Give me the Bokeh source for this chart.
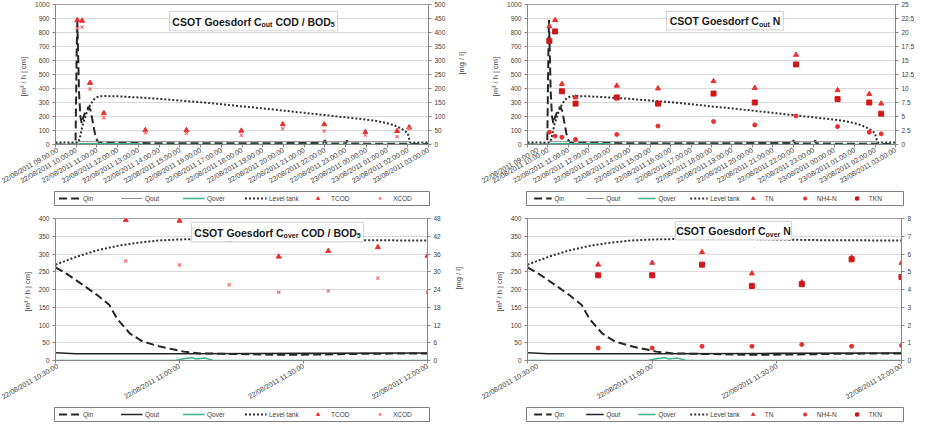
import pandas as pd
from bokeh.plotting import figure
from bokeh.models import (Range1d, LinearAxis, FixedTicker, DatetimeTickFormatter,
                          NumeralTickFormatter, Legend, LegendItem, Label, BoxAnnotation)
from bokeh.layouts import column, row
from bokeh.embed import file_html
from bokeh.resources import INLINE

FMT = "%d/%m/%Y %H:%M"
NAN = float("nan")

# ---------------- x ticks ----------------
top_xticks = ["22/08/2011 09:00", "22/08/2011 10:00", "22/08/2011 11:00", "22/08/2011 12:00",
              "22/08/2011 13:00", "22/08/2011 14:00", "22/08/2011 15:00", "22/08/2011 16:00",
              "22/08/2011 17:00", "22/08/2011 18:00", "22/08/2011 19:00", "22/08/2011 20:00",
              "22/08/2011 21:00", "22/08/2011 22:00", "22/08/2011 23:00", "23/08/2011 00:00",
              "23/08/2011 01:00", "23/08/2011 02:00", "23/08/2011 03:00"]
bot_xticks = ["22/08/2011 10:30", "22/08/2011 11:00", "22/08/2011 11:30", "22/08/2011 12:00"]

# ---------------- flows, outlet period ----------------
top_qin_time = ["22/08/2011 09:00", "22/08/2011 09:58", "22/08/2011 10:01", "22/08/2011 10:03",
                "22/08/2011 10:05", "22/08/2011 10:08", "22/08/2011 10:12", "22/08/2011 10:16",
                "22/08/2011 10:20", "22/08/2011 10:28", "22/08/2011 10:36", "22/08/2011 10:42",
                "22/08/2011 10:48", "22/08/2011 10:54", "22/08/2011 11:00", "22/08/2011 11:06",
                "22/08/2011 12:00", "22/08/2011 13:00", "22/08/2011 16:00", "22/08/2011 20:00",
                "22/08/2011 21:55", "22/08/2011 22:00", "22/08/2011 22:05", "22/08/2011 23:00",
                "22/08/2011 23:04", "22/08/2011 23:08", "23/08/2011 00:00", "23/08/2011 02:00",
                "23/08/2011 02:10", "23/08/2011 03:00"]
top_qin = [0, 0, 600, 890, 700, 380, 200, 150, 190, 240, 270, 240, 160, 80, 30, 15,
           14, 10, 8, 10, 10, 30, 8, 8, 30, 8, 6, 6, 3, 3]

top_qout_time = ["22/08/2011 09:00", "22/08/2011 10:00", "22/08/2011 10:05",
                 "23/08/2011 02:05", "23/08/2011 02:10", "23/08/2011 03:00"]
top_qout = [0, 0, 20, 20, 0, 0]

top_qover_time = ["22/08/2011 09:00", "22/08/2011 10:05", "22/08/2011 10:10",
                  "22/08/2011 13:00", "22/08/2011 13:10", "23/08/2011 03:00"]
top_qover = [0, 0, 6, 6, 0, 0]

top_level_time = ["22/08/2011 09:00", "22/08/2011 10:05", "22/08/2011 10:10", "22/08/2011 10:15",
                  "22/08/2011 10:20", "22/08/2011 10:25", "22/08/2011 10:30", "22/08/2011 10:35",
                  "22/08/2011 10:40", "22/08/2011 10:45", "22/08/2011 10:50", "22/08/2011 10:55",
                  "22/08/2011 11:00", "22/08/2011 11:10", "22/08/2011 11:20", "22/08/2011 12:00",
                  "22/08/2011 13:00", "22/08/2011 14:00", "22/08/2011 15:00", "22/08/2011 16:00",
                  "22/08/2011 17:00", "22/08/2011 18:00", "22/08/2011 19:00", "22/08/2011 20:00",
                  "22/08/2011 21:00", "22/08/2011 22:00", "22/08/2011 23:00", "23/08/2011 00:00",
                  "23/08/2011 00:30", "23/08/2011 01:00", "23/08/2011 01:20", "23/08/2011 01:40",
                  "23/08/2011 01:50", "23/08/2011 02:00", "23/08/2011 02:04", "23/08/2011 02:07",
                  "23/08/2011 03:00"]
top_level = [15, 15, 40, 100, 150, 190, 225, 255, 280, 300, 318, 330, 338, 344, 346, 344,
             336, 326, 314, 302, 288, 272, 258, 242, 226, 210, 194, 178, 168, 152, 138, 115,
             100, 80, 40, 15, 15]

# ---------------- concentrations, outlet COD ----------------
cod_out_time = ["22/08/2011 10:03", "22/08/2011 10:17", "22/08/2011 10:40", "22/08/2011 11:20",
                "22/08/2011 13:20", "22/08/2011 15:19", "22/08/2011 17:58", "22/08/2011 19:58",
                "22/08/2011 21:58", "22/08/2011 23:57", "23/08/2011 01:29", "23/08/2011 02:04"]
tcod_out = [444, 442, 220, 112, 51, 51, 49, 72, 72, 44, 48, 61]
xcod_out = [415, 420, 198, 96, 42, 40, 33, 56, 48, 34, 28, 56]

# ---------------- concentrations, outlet N ----------------
n_out_time = ["22/08/2011 10:04", "22/08/2011 10:21", "22/08/2011 10:41", "22/08/2011 11:21",
              "22/08/2011 13:22", "22/08/2011 15:23", "22/08/2011 18:06", "22/08/2011 20:07",
              "22/08/2011 22:08", "23/08/2011 00:10", "23/08/2011 01:43", "23/08/2011 02:18"]
tn_out = [21.1, 22.2, 10.8, 8.4, 10.5, 10.0, 11.3, 10.1, 16.0, 9.7, 9.0, 7.3]
nh4_out = [2.2, 1.5, 1.3, 0.9, 1.8, 3.3, 4.1, 3.5, 5.1, 3.2, 2.2, 1.9]
tkn_out = [18.5, 20.2, 9.5, 7.3, 8.4, 7.3, 9.1, 7.5, 14.3, 8.1, 7.5, 5.5]

# ---------------- flows, overflow period ----------------
bot_qin_time = ["22/08/2011 10:30", "22/08/2011 10:33", "22/08/2011 10:37", "22/08/2011 10:40",
                "22/08/2011 10:43", "22/08/2011 10:45", "22/08/2011 10:48", "22/08/2011 10:51",
                "22/08/2011 10:55", "22/08/2011 10:59", "22/08/2011 11:01", "22/08/2011 11:05",
                "22/08/2011 11:15", "22/08/2011 11:25", "22/08/2011 11:35", "22/08/2011 11:45",
                "22/08/2011 12:00"]
bot_qin = [262, 242, 210, 185, 157, 116, 76, 54, 40, 30, 25, 20, 18, 16, 17, 19, 20]

bot_qout_time = ["22/08/2011 10:30", "22/08/2011 10:35", "22/08/2011 11:00",
                 "22/08/2011 11:30", "22/08/2011 12:00"]
bot_qout = [22, 19, 19, 20, 21]

bot_qover_time = ["22/08/2011 10:30", "22/08/2011 10:59", "22/08/2011 11:01", "22/08/2011 11:03",
                  "22/08/2011 11:04", "22/08/2011 11:06", "22/08/2011 11:08", "22/08/2011 11:10",
                  "22/08/2011 12:00"]
bot_qover = [0, 0, 5, 8, 4, 7, 1, 0, 0]

bot_level_time = ["22/08/2011 10:30", "22/08/2011 10:35", "22/08/2011 10:40", "22/08/2011 10:45",
                  "22/08/2011 10:50", "22/08/2011 10:55", "22/08/2011 11:00", "22/08/2011 11:10",
                  "22/08/2011 11:20", "22/08/2011 11:30", "22/08/2011 11:40", "22/08/2011 12:00"]
bot_level = [270, 292, 310, 323, 332, 338, 341, 343, 343, 341, 339, 338]

# ---------------- concentrations, overflow ----------------
over_time = ["22/08/2011 10:47", "22/08/2011 11:00", "22/08/2011 11:12", "22/08/2011 11:24",
             "22/08/2011 11:36", "22/08/2011 11:48", "22/08/2011 12:00"]
tcod_over = [47.5, 47.2, 40.8, 35.1, 37.0, 38.3, 35.4]
xcod_over = [33.6, 32.3, 25.6, 23.1, 23.5, 27.8, 23.1]
tn_over = [5.4, 5.5, 6.1, 4.9, 4.4, 5.8, 5.5]
nh4_over = [0.7, 0.7, 0.8, 0.8, 0.9, 0.8, 0.85]
tkn_over = [4.8, 4.8, 5.4, 4.2, 4.3, 5.7, 4.7]

# ---------------- styles ----------------
FONT = "Liberation Sans"
TXT = "#404040"
AXC = "#868686"
RED = "#e8302e"
TEAL = "#3cb48c"

QIN = dict(line_color="#262626", line_width=2, line_dash="8 4")
QOUT_LIGHT = dict(line_color="#8c8c8c", line_width=1)
QOUT_DARK = dict(line_color="#262626", line_width=1.6)
QOVER = dict(line_color=TEAL, line_width=1.5)
LEVEL = dict(line_color="#333333", line_width=2, line_dash="2 2")
TRI = dict(marker="triangle", size=5, fill_color=RED, line_color=RED)
XM = dict(marker="x", size=4.5, line_color="#f07070", line_width=1.2)
CIR = dict(marker="circle", size=4, fill_color=RED, line_color=RED)
SQ = dict(marker="square", size=5, fill_color="#d01818", line_color="#d01818")


def T(lst):
    return pd.to_datetime(lst, format=FMT)


def ms(lst):
    return [int(t.value // 10**6) for t in T(lst)]


AW = {' ': 278, '/': 278, 'C': 722, 'S': 667, 'O': 778, 'T': 611, 'G': 778, 'o': 611,
      'e': 556, 's': 556, 'd': 611, 'r': 389, 'f': 333, 'u': 611, 't': 333, 'v': 556,
      'B': 722, 'D': 722, 'N': 722, '5': 556}


def tw(s, size):
    return sum(AW[c] for c in s) * size / 1000.0


def style_axis(ax):
    ax.axis_line_color = AXC
    ax.major_tick_line_color = AXC
    ax.major_tick_out = 3
    ax.major_tick_in = 0
    ax.minor_tick_line_color = None
    ax.major_label_text_font = FONT
    ax.major_label_text_font_size = "6.5px"
    ax.major_label_text_color = TXT
    ax.major_label_standoff = 3
    ax.axis_label_text_font = FONT
    ax.axis_label_text_font_size = "7.5px"
    ax.axis_label_text_font_style = "normal"
    ax.axis_label_text_color = TXT


def make_panel(w, h, bl, br, bt, bb, xticks, ymax, ystep, y2max, y2step, right_label, r_standoff):
    x0, x1 = ms([xticks[0], xticks[-1]])
    p = figure(width=w, height=h, x_axis_type="datetime", x_range=Range1d(x0, x1),
               y_range=Range1d(0, ymax), output_backend="svg", toolbar_location=None,
               min_border_left=bl, min_border_right=br, min_border_top=bt, min_border_bottom=bb,
               background_fill_color="white", border_fill_color="white")
    p.outline_line_color = "#a6a6a6"
    p.xgrid.visible = False
    p.ygrid.grid_line_color = "#d9d9d9"
    yt = [i * ystep for i in range(int(round(ymax / ystep)) + 1)]
    p.ygrid.ticker = FixedTicker(ticks=yt)
    p.yaxis.ticker = FixedTicker(ticks=yt)
    p.yaxis.axis_label = "[m³ / h  |  cm]"
    p.yaxis.axis_label_standoff = 4
    f = "%d/%m/%Y %H:%M:%S"
    p.xaxis.ticker = FixedTicker(ticks=ms(xticks))
    p.xaxis.formatter = DatetimeTickFormatter(milliseconds=f, seconds=f, minsec=f, minutes=f,
                                              hourmin=f, hours=f, days=f, months=f, years=f)
    p.xaxis.major_label_orientation = 0.52
    p.extra_y_ranges = {"mg": Range1d(0, y2max)}
    n2 = int(round(y2max / y2step))
    ax2 = LinearAxis(y_range_name="mg", ticker=FixedTicker(ticks=[i * y2step for i in range(n2 + 1)]),
                     formatter=NumeralTickFormatter(format="0.[0]"))
    if right_label:
        ax2.axis_label = right_label
        ax2.axis_label_standoff = r_standoff
        if hasattr(ax2, "axis_label_orientation"):
            ax2.axis_label_orientation = 1.5708
    p.add_layout(ax2, "right")
    for ax in [p.xaxis[0], p.yaxis[0], ax2]:
        style_axis(ax)
    p.xaxis.major_label_text_font_size = "7px"
    p.xaxis.major_label_standoff = 2
    return p


def add_title(p, parts, box_left, box_top, box_w, box_h, fw, fh):
    xs, xe = p.x_range.start, p.x_range.end
    ymax = p.y_range.end
    p.add_layout(BoxAnnotation(left=xs + box_left * (xe - xs) / fw,
                               right=xs + (box_left + box_w) * (xe - xs) / fw,
                               top=ymax - box_top * ymax / fh,
                               bottom=ymax - (box_top + box_h) * ymax / fh,
                               fill_color="white", fill_alpha=1,
                               line_color="#7f7f7f", line_width=1.2))
    sizes = [(t, 7.0 if sub else 10.5, sub) for t, sub in parts]
    total = sum(tw(t, s) for t, s, _ in sizes)
    x = box_left + (box_w - total) / 2.0
    yc = box_top + box_h / 2.0
    for t, s, sub in sizes:
        lead = len(t) - len(t.lstrip(" "))
        x += tw(" " * lead, s)
        body = t.lstrip(" ")
        p.add_layout(Label(x=xs, y=ymax, x_offset=x, y_offset=-(yc + (3 if sub else 0)),
                           text=body, text_font=FONT, text_font_style="bold",
                           text_font_size=f"{s}px", text_color="#1a1a1a",
                           text_align="left", text_baseline="middle"))
        x += tw(body, s)


def legend_fig(w, h, entries, glyph_w, label_w, spacing, box_left, box_w):
    # the frame of this small figure is the legend's box
    q = figure(width=w, height=h, x_range=Range1d(0, 1), y_range=Range1d(0, 1),
               output_backend="svg", toolbar_location=None, x_axis_location=None,
               y_axis_location=None, min_border_left=box_left,
               min_border_right=w - box_left - box_w, min_border_top=1, min_border_bottom=1,
               background_fill_color="white", border_fill_color="white")
    q.grid.visible = False
    q.outline_line_color = "#808080"
    q.outline_line_width = 1
    items = []
    for label, kind, style in entries:
        # legend swatch only: a single missing (NaN) point, nothing is drawn in the frame
        if kind == "line":
            r = q.line(x=[NAN], y=[NAN], **style)
        else:
            r = q.scatter(x=[NAN], y=[NAN], **style)
        items.append(LegendItem(label=label, renderers=[r]))
    lg = Legend(items=items, orientation="horizontal", location="center",
                label_text_font=FONT, label_text_font_size="6.5px", label_text_color=TXT,
                glyph_width=glyph_w, glyph_height=8, label_height=8, label_width=label_w,
                label_standoff=3, spacing=spacing, padding=2, margin=0,
                border_line_color=None, background_fill_alpha=0)
    q.add_layout(lg, "center")
    return q


BT1, FH1, BT2, FH2, BB, HL = 4, 144, 12, 146, 42, 16
H1 = BT1 + FH1 + BB
H2 = BT2 + FH2 + BB

# ---------------- panel 1: C_out COD / BOD5 ----------------
p1 = make_panel(480, H1, 55, 52, BT1, BB, top_xticks, 1000, 100, 500, 50, "[mg / l]", 13)
p1.line(T(top_qin_time), top_qin, **QIN)
p1.line(T(top_qout_time), top_qout, **QOUT_LIGHT)
p1.line(T(top_qover_time), top_qover, **QOVER)
p1.line(T(top_level_time), top_level, **LEVEL)
p1.scatter(T(cod_out_time), tcod_out, y_range_name="mg", **TRI)
p1.scatter(T(cod_out_time), xcod_out, y_range_name="mg", **XM)
add_title(p1, [("CSOT Goesdorf C", False), ("out", True), (" COD / BOD", False), ("5", True)],
          114, 7, 168, 20, 373, FH1)
l1 = legend_fig(480, HL, [("Qin", "line", QIN), ("Qout", "line", QOUT_LIGHT),
                          ("Qover", "line", QOVER), ("Level tank", "line", LEVEL),
                          ("TCOD", "scatter", TRI), ("XCOD", "scatter", XM)],
                22, 32, 5, 54, 375)

# ---------------- panel 2: C_out N ----------------
p2 = make_panel(438, H1, 47, 23, BT1, BB, top_xticks, 1000, 100, 25, 2.5, None, 0)
p2.line(T(top_qin_time), top_qin, **QIN)
p2.line(T(top_qout_time), top_qout, **QOUT_LIGHT)
p2.line(T(top_qover_time), top_qover, **QOVER)
p2.line(T(top_level_time), top_level, **LEVEL)
p2.scatter(T(n_out_time), tn_out, y_range_name="mg", **TRI)
p2.scatter(T(n_out_time), nh4_out, y_range_name="mg", **CIR)
p2.scatter(T(n_out_time), tkn_out, y_range_name="mg", **SQ)
add_title(p2, [("CSOT Goesdorf C", False), ("out", True), (" N", False)],
          139, 7, 117, 19, 368, FH1)
l2 = legend_fig(438, HL, [("Qin", "line", QIN), ("Qout", "line", QOUT_LIGHT),
                          ("Qover", "line", QOVER), ("Level tank", "line", LEVEL),
                          ("TN", "scatter", TRI), ("NH4-N", "scatter", CIR),
                          ("TKN", "scatter", SQ)], 18, 27, 4, 46, 377)

# ---------------- panel 3: C_over COD / BOD5 ----------------
p3 = make_panel(480, H2, 55, 53, BT2, BB, bot_xticks, 400, 50, 48, 6, "[mg / l]", 15)
p3.line(T(bot_qin_time), bot_qin, **QIN)
p3.line(T(bot_qout_time), bot_qout, **QOUT_DARK)
p3.line(T(bot_qover_time), bot_qover, **QOVER)
p3.line(T(bot_level_time), bot_level, **LEVEL)
p3.scatter(T(over_time), tcod_over, y_range_name="mg", **TRI)
p3.scatter(T(over_time), xcod_over, y_range_name="mg", **XM)
add_title(p3, [("CSOT Goesdorf C", False), ("over", True), (" COD / BOD", False), ("5", True)],
          136, 4, 172, 20, 372, FH2)
l3 = legend_fig(480, HL, [("Qin", "line", QIN), ("Qout", "line", QOUT_DARK),
                          ("Qover", "line", QOVER), ("Level tank", "line", LEVEL),
                          ("TCOD", "scatter", TRI), ("XCOD", "scatter", XM)],
                22, 32, 5, 54, 375)

# ---------------- panel 4: C_over N ----------------
p4 = make_panel(440, H2, 47, 19, BT2, BB, bot_xticks, 400, 50, 8, 1, None, 0)
p4.line(T(bot_qin_time), bot_qin, **QIN)
p4.line(T(bot_qout_time), bot_qout, **QOUT_DARK)
p4.line(T(bot_qover_time), bot_qover, **QOVER)
p4.line(T(bot_level_time), bot_level, **LEVEL)
p4.scatter(T(over_time), tn_over, y_range_name="mg", **TRI)
p4.scatter(T(over_time), nh4_over, y_range_name="mg", **CIR)
p4.scatter(T(over_time), tkn_over, y_range_name="mg", **SQ)
add_title(p4, [("CSOT Goesdorf C", False), ("over", True), (" N", False)],
          148, 3, 116, 19, 374, FH2)
l4 = legend_fig(440, HL, [("Qin", "line", QIN), ("Qout", "line", QOUT_DARK),
                          ("Qover", "line", QOVER), ("Level tank", "line", LEVEL),
                          ("TN", "scatter", TRI), ("NH4-N", "scatter", CIR),
                          ("TKN", "scatter", SQ)], 18, 27, 4, 46, 377)

layout = column(row(p1, p2), row(l1, l2), row(p3, p4), row(l3, l4))
open("out.html", "w").write(file_html(layout, INLINE))
